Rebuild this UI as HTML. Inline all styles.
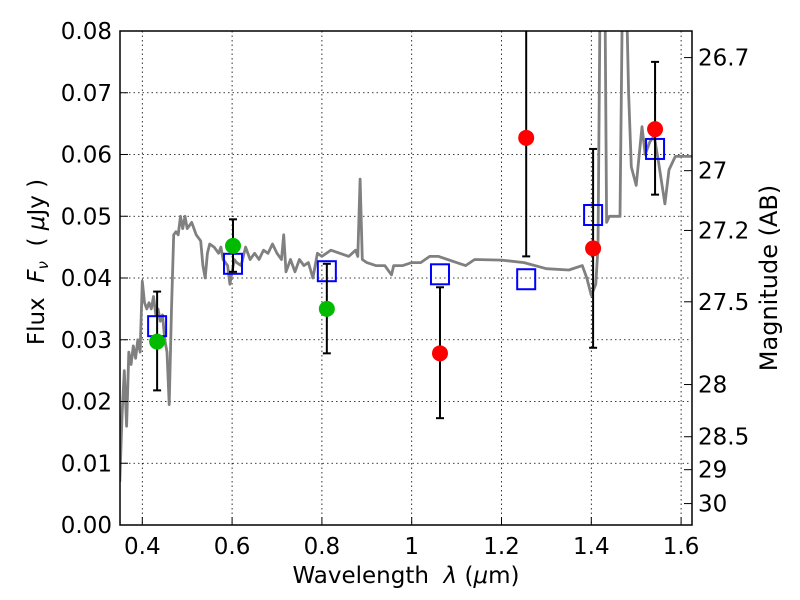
<!DOCTYPE html>
<html><head><meta charset="utf-8"><style>
body{margin:0;background:#fff}
svg{display:block;font-family:"DejaVu Sans","Liberation Sans",sans-serif}
</style></head><body>
<svg id="chart" width="800" height="600" viewBox="0 0 800 600">
<defs><clipPath id="clip"><rect x="120" y="31" width="572" height="494"/></clipPath></defs>
<rect width="800" height="600" fill="#fff"/>
<g id="grid"></g>
<g id="spec" clip-path="url(#clip)"></g>
<g id="marks" clip-path="url(#clip)"></g>
<rect x="120" y="31" width="572" height="494" fill="none" stroke="#000" stroke-width="1.5"/>
<g id="axes"></g>
<text x="406" y="583" font-size="23" text-anchor="middle">Wavelength&#160;&#160;<tspan font-style="italic">λ</tspan> (<tspan font-style="italic">μ</tspan>m)</text>
<text transform="translate(44,262) rotate(-90)" font-size="23" text-anchor="middle">Flux&#160;&#160;<tspan font-style="italic">F</tspan><tspan font-style="italic" font-size="15" dy="4">ν</tspan><tspan dy="-4">&#160;&#160;( </tspan><tspan font-style="italic">μ</tspan>Jy )</text>
<text transform="translate(777,278) rotate(-90)" font-size="24" text-anchor="middle">Magnitude (AB)</text>
</svg>
<script>
const xTicks=[0.4,0.6,0.8,1.0,1.2,1.4,1.6];
const xTickLabels=["0.4","0.6","0.8","1","1.2","1.4","1.6"];
const yTicks=[0,0.01,0.02,0.03,0.04,0.05,0.06,0.07,0.08];
const yTickLabels=["0.00","0.01","0.02","0.03","0.04","0.05","0.06","0.07","0.08"];
const magTicks=[26.7,27,27.2,27.5,28,28.5,29,30];
const magTickLabels=["26.7","27","27.2","27.5","28","28.5","29","30"];
const specWave=[0.35,0.355,0.36,0.365,0.37,0.375,0.38,0.385,0.39,0.395,0.40,0.405,0.41,0.415,0.42,0.425,0.43,0.435,0.44,0.445,0.45,0.455,0.46,0.465,0.47,0.475,0.48,0.485,0.49,0.495,0.50,0.51,0.52,0.53,0.535,0.54,0.545,0.55,0.56,0.57,0.575,0.58,0.59,0.595,0.60,0.605,0.61,0.62,0.63,0.64,0.65,0.66,0.67,0.68,0.69,0.70,0.71,0.715,0.72,0.73,0.74,0.75,0.76,0.77,0.78,0.79,0.80,0.82,0.84,0.86,0.875,0.88,0.885,0.89,0.90,0.92,0.94,0.955,0.96,0.98,1.0,1.02,1.04,1.06,1.08,1.10,1.12,1.14,1.2,1.25,1.3,1.35,1.38,1.39,1.40,1.41,1.415,1.42,1.425,1.43,1.434,1.44,1.45,1.46,1.464,1.47,1.477,1.483,1.489,1.50,1.513,1.52,1.53,1.54,1.55,1.564,1.573,1.587,1.6,1.625];
const specFlux=[0.007,0.018,0.025,0.016,0.028,0.026,0.029,0.027,0.030,0.028,0.0395,0.036,0.035,0.036,0.035,0.037,0.034,0.035,0.033,0.034,0.030,0.028,0.0195,0.035,0.047,0.0475,0.047,0.050,0.048,0.050,0.048,0.049,0.047,0.046,0.042,0.040,0.044,0.0455,0.045,0.044,0.045,0.043,0.042,0.039,0.041,0.043,0.0425,0.042,0.045,0.043,0.044,0.043,0.0445,0.044,0.0455,0.044,0.043,0.047,0.041,0.043,0.041,0.043,0.042,0.0425,0.040,0.044,0.0435,0.0445,0.044,0.0435,0.0445,0.0435,0.056,0.043,0.0425,0.042,0.042,0.0405,0.042,0.042,0.0425,0.0425,0.0435,0.0435,0.043,0.0425,0.042,0.043,0.0429,0.0425,0.0415,0.0413,0.042,0.040,0.0372,0.039,0.045,0.09,0.09,0.09,0.049,0.050,0.050,0.050,0.050,0.09,0.09,0.07,0.058,0.055,0.0645,0.060,0.062,0.063,0.0587,0.052,0.0575,0.0597,0.0597,0.0597];
const ptWave=[0.433,0.602,0.811,1.063,1.255,1.404,1.542];
const ptFlux=[0.0297,0.0452,0.035,0.0278,0.0627,0.0448,0.0641];
const ptErrLow=[0.0218,0.041,0.0278,0.0173,0.0435,0.0287,0.0535];
const ptErrHigh=[0.0378,0.0495,0.0423,0.0385,0.085,0.0609,0.075];
const ptColor=["#00bb00","#00bb00","#00bb00","#ff0000","#ff0000","#ff0000","#ff0000"];
const sqWave=[0.433,0.602,0.811,1.063,1.255,1.404,1.542];
const sqFlux=[0.0322,0.0423,0.0411,0.0406,0.0398,0.0502,0.0609];

const X=l=>142.3+(l-0.4)*449;
const Y=f=>525+(0-f)*6175;
const magToFlux=m=>Math.pow(10,(23.9-m)/2.5);
const NS="http://www.w3.org/2000/svg";
function mk(tag,attrs,parent){const e=document.createElementNS(NS,tag);for(const k in attrs)e.setAttribute(k,attrs[k]);parent.appendChild(e);return e;}
const grid=document.getElementById('grid'),axes=document.getElementById('axes');
xTicks.forEach((t,i)=>{
  const l=mk('line',{x1:X(t),x2:X(t),y1:31,y2:525,stroke:'#000','stroke-width':0.8,'stroke-dasharray':'1.5,3'},grid);
  
  const tk=mk('line',{x1:X(t),x2:X(t),y1:525,y2:517,stroke:'#000'},axes);
  
  const tx=mk('text',{x:X(t),y:554,'font-size':23,'text-anchor':'middle'},axes);tx.textContent=xTickLabels[i];
  
});
yTicks.forEach((t,i)=>{
  if(t>0&&t<0.08){const l=mk('line',{x1:120,x2:692,y1:Y(t),y2:Y(t),stroke:'#000','stroke-width':0.8,'stroke-dasharray':'1.5,3'},grid);
  }
  const tk=mk('line',{x1:120,x2:128,y1:Y(t),y2:Y(t),stroke:'#000'},axes);
  
  const tx=mk('text',{x:112,y:Y(t)+8,'font-size':23,'text-anchor':'end'},axes);tx.textContent=yTickLabels[i];
  
});
magTicks.forEach((m,i)=>{
  const y=Y(magToFlux(m))+1;
  const tk=mk('line',{x1:684,x2:692,y1:y,y2:y,stroke:'#000'},axes);
  
  const tx=mk('text',{x:698,y:y+8,'font-size':23},axes);tx.textContent=magTickLabels[i];
  
});
const spec=document.getElementById('spec');
const pl=mk('polyline',{points:specWave.map((w,i)=>X(w).toFixed(1)+','+Y(specFlux[i]).toFixed(1)).join(' '),fill:'none',stroke:'#808080','stroke-width':2.8,'stroke-linejoin':'round'},spec);

const marks=document.getElementById('marks');
sqWave.forEach((w,i)=>{
  const r=mk('rect',{x:X(w)-9,y:Y(sqFlux[i])-10,width:18,height:20,fill:'none',stroke:'#0000ff','stroke-width':2},marks);
  
});
ptWave.forEach((w,i)=>{
  const x=X(w);
  const g=mk('g',{},marks);
  
  mk('line',{x1:x,x2:x,y1:Y(ptErrLow[i]),y2:Y(ptErrHigh[i]),stroke:'#000','stroke-width':2},g);
  mk('line',{x1:x-4,x2:x+4,y1:Y(ptErrLow[i]),y2:Y(ptErrLow[i]),stroke:'#000','stroke-width':2},g);
  mk('line',{x1:x-4,x2:x+4,y1:Y(ptErrHigh[i]),y2:Y(ptErrHigh[i]),stroke:'#000','stroke-width':2},g);
  const c=mk('circle',{cx:x,cy:Y(ptFlux[i]),r:8,fill:ptColor[i]},marks);
  
});
</script>
</body></html>
